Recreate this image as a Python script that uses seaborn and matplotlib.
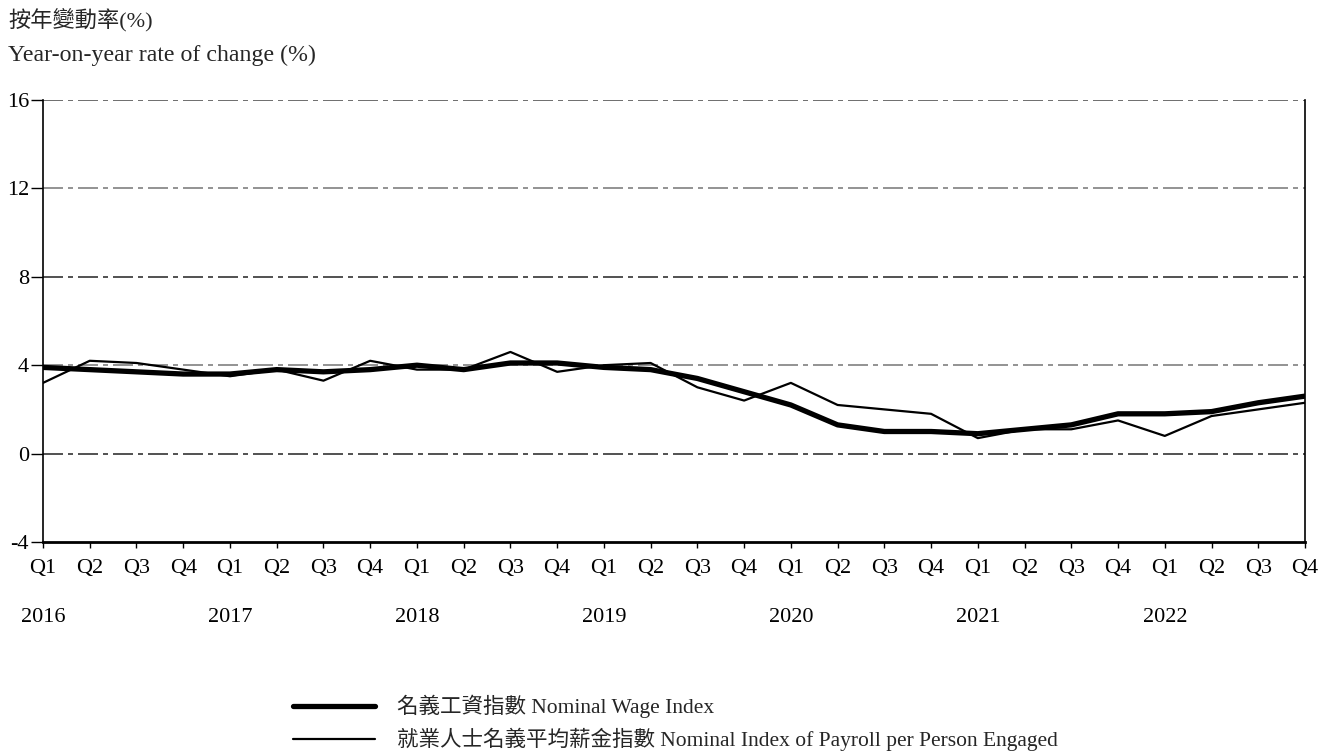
import matplotlib
matplotlib.use("Agg")
import matplotlib.pyplot as plt
import matplotlib.transforms as mtransforms
import seaborn as sns
import pandas as pd
import numpy as np

# ---- data ----
years = ["2016", "2017", "2018", "2019", "2020", "2021", "2022"]
quarters = ["Q1", "Q2", "Q3", "Q4"]
nominal_wage_index = [3.9, 3.8, 3.7, 3.6,
                      3.6, 3.8, 3.7, 3.8,
                      4.0, 3.8, 4.1, 4.1,
                      3.9, 3.8, 3.4, 2.8,
                      2.2, 1.3, 1.0, 1.0,
                      0.9, 1.1, 1.3, 1.8,
                      1.8, 1.9, 2.3, 2.6]
payroll_index = [3.2, 4.2, 4.1, 3.8,
                 3.5, 3.8, 3.3, 4.2,
                 3.8, 3.8, 4.6, 3.7,
                 4.0, 4.1, 3.0, 2.4,
                 3.2, 2.2, 2.0, 1.8,
                 0.7, 1.1, 1.1, 1.5,
                 0.8, 1.7, 2.0, 2.3]
y_ticks = [-4, 0, 4, 8, 12, 16]
label_wage = "名義工資指數 Nominal Wage Index"
label_payroll = "就業人士名義平均薪金指數 Nominal Index of Payroll per Person Engaged"

sns.set_theme(style="white")
plt.rcParams['font.family'] = ['Liberation Serif', 'Noto Sans CJK TC']
plt.rcParams['axes.unicode_minus'] = False

FS = 16

n = len(nominal_wage_index)
q_labels = [quarters[i % 4] for i in range(n)]
df = pd.DataFrame({
    "idx": np.arange(n),
    "wage": nominal_wage_index,
    "payroll": payroll_index,
})

fig = plt.figure(figsize=(13.35, 7.53), dpi=100)
ax = fig.add_axes([43/1335, 1 - 542/753, (1305-43)/1335, (542-100)/753])

# grid lines (dash-dot)
grid_colors = {16: "#555555", 12: "#808080", 8: "#333333", 4: "#808080", 0: "#333333"}
for yv in y_ticks[1:]:
    ax.axhline(yv, color=grid_colors.get(yv, "#555555"), lw=1.2,
               linestyle=(0, (12, 3, 3, 3)), zorder=1)

sns.lineplot(data=df, x="idx", y="wage", ax=ax, color="black", lw=3.8,
             label=label_wage, zorder=3)
sns.lineplot(data=df, x="idx", y="payroll", ax=ax, color="black", lw=1.6,
             label=label_payroll, zorder=4)

ax.set_xlim(0, n - 1)
ax.set_ylim(-4, 16)
ax.set_yticks(y_ticks)
ax.set_yticklabels([str(v) for v in y_ticks], fontsize=FS)
ax.set_xticks(np.arange(n))
ax.set_xticklabels(q_labels, fontsize=FS)
ax.set_xlabel("")
ax.set_ylabel("")

ax.tick_params(axis="y", direction="out", length=9, width=1, pad=1, colors="black",
               left=True)
ax.tick_params(axis="x", direction="out", length=4, width=1, pad=8, colors="black",
               bottom=True, labelcolor="black")
for t in ax.get_xticklines():
    t.set_color("#555555")

ax.spines["top"].set_visible(False)
for s in ["left", "right"]:
    ax.spines[s].set_color("black")
    ax.spines[s].set_linewidth(1.2)
ax.spines["bottom"].set_color("black")
ax.spines["bottom"].set_linewidth(2)

# year labels under Q1
trans = mtransforms.blended_transform_factory(ax.transData, ax.transAxes)
for i, yr in enumerate(years):
    ax.text(i * 4, -0.17, yr, transform=trans, ha="center", va="center",
            fontsize=FS, color="black")

# axis titles
fig.text(8/1335, 1 - 20/753, "按年變動率(%)", ha="left", va="center", fontsize=FS)
fig.text(8/1335, 1 - 55/753, "Year-on-year rate of change (%)", ha="left", va="center",
         fontsize=17.2)

ax.get_legend().remove()
handles, labels = ax.get_legend_handles_labels()
fig.legend(handles, labels, loc="center left", bbox_to_anchor=(293/1335, 1 - 723/753),
           frameon=False, fontsize=15.5, handlelength=3.8, handletextpad=1.05,
           labelspacing=0.45, borderaxespad=0, borderpad=0)

fig.savefig("out.png", dpi=100)
